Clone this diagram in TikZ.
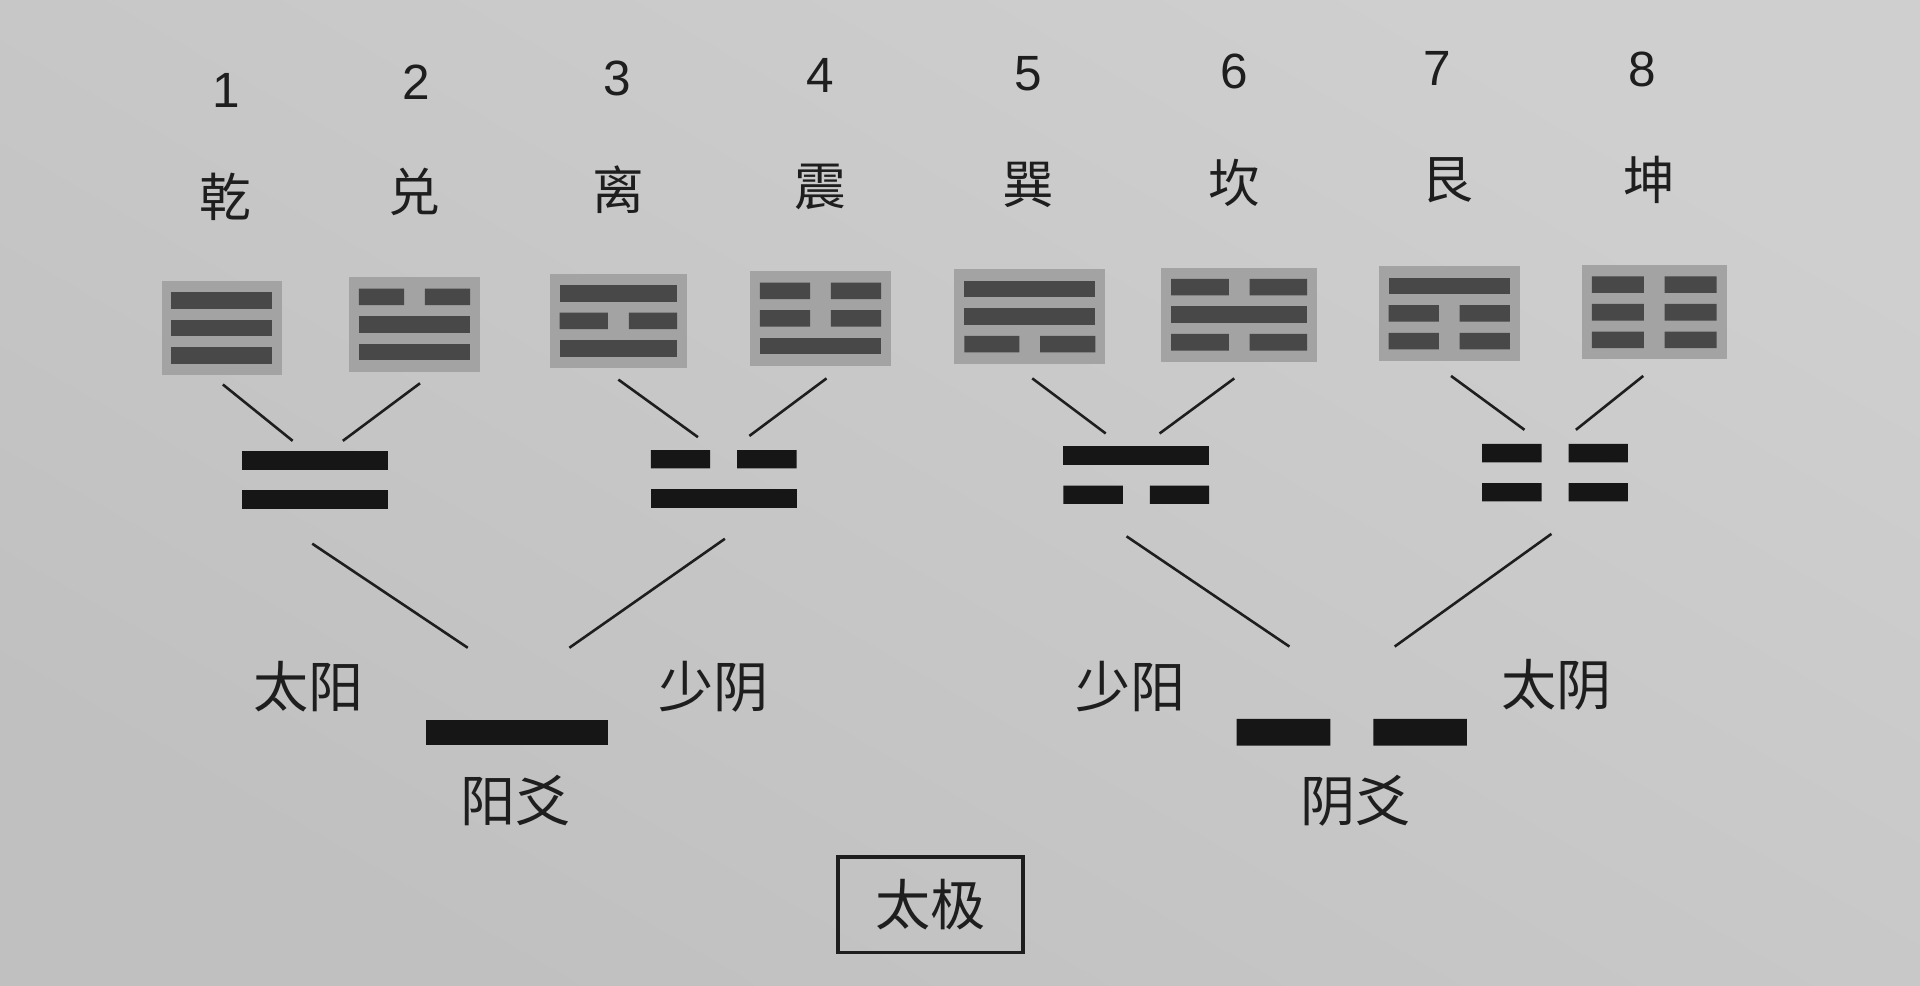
\documentclass[tikz,border=0pt]{standalone}
\usepackage{fontspec}
\setmainfont{Liberation Sans}
\newfontfamily\cjk{Noto Sans CJK SC}
\definecolor{paperlight}{RGB}{207,207,207}
\definecolor{paperdark}{RGB}{192,192,192}
\definecolor{boxgrey}{RGB}{163,163,163}
\definecolor{tribar}{RGB}{72,72,72}
\definecolor{digbar}{RGB}{22,22,22}
\definecolor{ink}{RGB}{30,30,30}
\newcommand\ZYang[5]{\fill[#1] ({(#2)-(#4)/2},{(#3)-(#5)/2}) rectangle ({(#2)+(#4)/2},{(#3)+(#5)/2});}
\newcommand\ZYin[6]{\fill[#1] ({(#2)-(#4)/2},{(#3)-(#5)/2}) rectangle ({(#2)-(#6)/2},{(#3)+(#5)/2}) ({(#2)+(#6)/2},{(#3)-(#5)/2}) rectangle ({(#2)+(#4)/2},{(#3)+(#5)/2});}
% #1 solid?, #2 cx, #3 cy, #4 bar width
\newcommand\ZTL[4]{\ifnum#1=1 \ZYang{tribar}{#2}{#3}{#4}{13.5}\else\ZYin{tribar}{#2}{#3}{#4}{13.5}{17}\fi}
% name, cx, cy, box width, top, mid, bottom
\newcommand\ZTri[7]{%
  \node[tribox, minimum width=#4*0.01cm] (#1) at (#2,#3) {};
  \ZTL{#5}{#2}{#3-22.5}{#4-16}
  \ZTL{#6}{#2}{#3}{#4-16}
  \ZTL{#7}{#2}{#3+22.5}{#4-16}
}
\newcommand\ZDL[3]{\ifnum#1=1 \ZYang{digbar}{#2}{#3}{119}{15}\else\ZYin{digbar}{#2}{#3}{119}{15}{22}\fi}
\newcommand\ZDig[5]{%
  \node[digbox] (#1) at (#2,#3) {};
  \ZDL{#4}{#2}{#3-16}
  \ZDL{#5}{#2}{#3+16}
}
\tikzset{
  tribox/.style={fill=boxgrey, minimum height=0.77cm, inner sep=0pt, draw=none},
  digbox/.style={minimum width=1.2cm, minimum height=0.48cm, inner sep=0pt, draw=none},
  lbl/.style={font=\cjk\fontsize{12.8}{14}\selectfont, text=ink, inner sep=0pt},
  nm/.style={font=\cjk\fontsize{12}{14}\selectfont, text=ink, inner sep=0pt},
  num/.style={font=\fontsize{11.5}{13}\selectfont, text=ink, inner sep=0pt},
  conn/.style={draw=ink, line width=0.6pt},
  framebox/.style={draw=ink, line width=0.8pt, minimum width=1.51cm, minimum height=0.78cm, inner sep=0pt}
}
\begin{document}
\begin{tikzpicture}[x=0.01cm,y=-0.01cm]
\shade[top color=paperlight, bottom color=paperdark, shading angle=-30] (0,0) rectangle (1568,805);
\useasboundingbox (0,0) rectangle (1568,805);
% numbers
\node[num] (n1) at (185,74) {1};
\node[num] (n2) at (340,67) {2};
\node[num] (n3) at (504,64) {3};
\node[num] (n4) at (670,62) {4};
\node[num] (n5) at (840,60) {5};
\node[num] (n6) at (1008,58) {6};
\node[num] (n7) at (1174,56) {7};
\node[num] (n8) at (1341,57) {8};
% names
\node[nm] (q1) at (184,161) {乾};
\node[nm] (q2) at (338,157) {兑};
\node[nm] (q3) at (505,155) {离};
\node[nm] (q4) at (670,153) {震};
\node[nm] (q5) at (840,151) {巽};
\node[nm] (q6) at (1008,149) {坎};
\node[nm] (q7) at (1182,147) {艮};
\node[nm] (q8) at (1347,147) {坤};
% trigrams (top, middle, bottom; 1 = solid)
\ZTri{t1}{181}{268}{98}{1}{1}{1}
\ZTri{t2}{338.5}{265}{107}{0}{1}{1}
\ZTri{t3}{505}{262}{112}{1}{0}{1}
\ZTri{t4}{670}{260}{115}{0}{0}{1}
\ZTri{t5}{841}{258.5}{123}{1}{1}{0}
\ZTri{t6}{1012}{257}{127}{0}{1}{0}
\ZTri{t7}{1183.5}{256}{115}{1}{0}{0}
\ZTri{t8}{1351}{255}{118}{0}{0}{0}
% digrams
\ZDig{d1}{257}{392}{1}{1}
\ZDig{d2}{591}{391}{0}{1}
\ZDig{d3}{928}{388}{1}{0}
\ZDig{d4}{1270}{386}{0}{0}
% monograms
\node[minimum width=1.49cm, minimum height=0.2cm, inner sep=0pt] (m1) at (422,598) {};
\ZYang{digbar}{422}{598}{149}{20}
\node[minimum width=1.88cm, minimum height=0.22cm, inner sep=0pt] (m2) at (1104,598) {};
\ZYin{digbar}{1104}{598}{188}{22}{35}
% labels
\node[lbl] (l1) at (252,561) {太阳};
\node[lbl] (l2) at (583,561) {少阴};
\node[lbl] (l3) at (923,561) {少阳};
\node[lbl] (l4) at (1271,559) {太阴};
\node[lbl] (l5) at (421,654) {阳爻};
\node[lbl] (l6) at (1107,654) {阴爻};
\node[lbl, framebox] (tj) at (760,739) {太极};
% connector end points
\coordinate (a1) at (182,314); \coordinate (b1) at (239,360);
\coordinate (a2) at (343,313); \coordinate (b2) at (280,360);
\coordinate (a3) at (505,310); \coordinate (b3) at (570,357);
\coordinate (a4) at (675,309); \coordinate (b4) at (612,356);
\coordinate (a5) at (843,309); \coordinate (b5) at (903,354);
\coordinate (a6) at (1008,309); \coordinate (b6) at (947,354);
\coordinate (a7) at (1185,307); \coordinate (b7) at (1245,351);
\coordinate (a8) at (1342,307); \coordinate (b8) at (1287,351);
\coordinate (c1) at (255,444); \coordinate (e1) at (382,529);
\coordinate (c2) at (592,440); \coordinate (e2) at (465,529);
\coordinate (c3) at (920,438); \coordinate (e3) at (1053,528);
\coordinate (c4) at (1267,436); \coordinate (e4) at (1139,528);
\foreach \i in {1,...,8} {\draw[conn] (a\i) -- (b\i);}
\foreach \i in {1,...,4} {\draw[conn] (c\i) -- (e\i);}
\end{tikzpicture}
\end{document}
